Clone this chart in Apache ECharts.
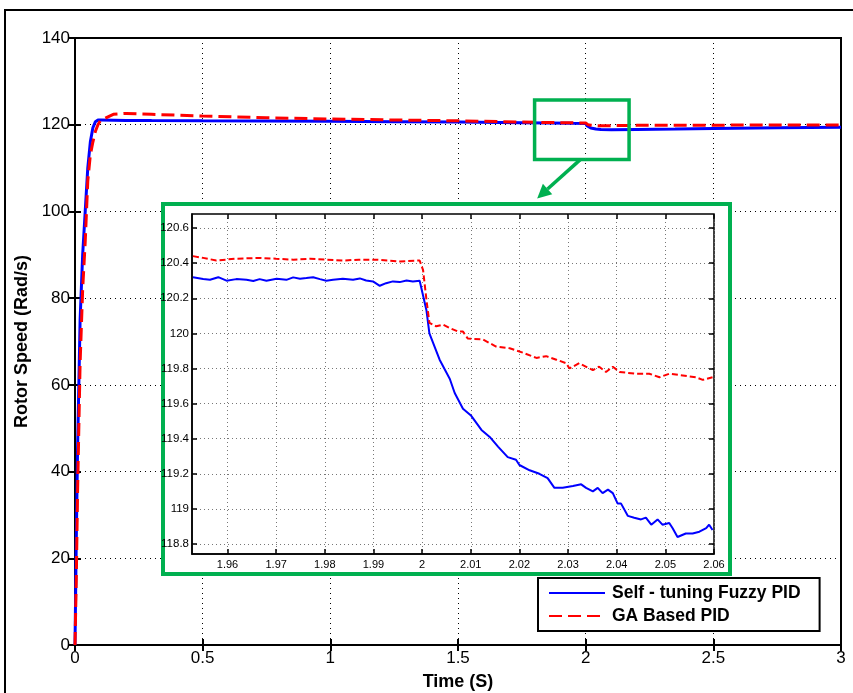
<!DOCTYPE html>
<html>
<head>
<meta charset="utf-8">
<script src="https://cdn.jsdelivr.net/npm/echarts@6/dist/echarts.min.js"></script>
<style>
  html, body { margin: 0; padding: 0; background: #fff; }
  #chart { width: 853px; height: 693px; }
</style>
</head>
<body>
<div id="chart"></div>
<script>
// full response, 0 .. 3 s
const mainTime = [0, 0.005, 0.01, 0.02, 0.03, 0.04, 0.05, 0.06, 0.07, 0.08, 0.09, 0.1, 0.15, 0.2, 0.3, 0.5, 0.75, 1.0, 1.25, 1.5, 1.75, 1.95, 2.0, 2.005, 2.01, 2.02, 2.04, 2.06, 2.1, 2.2, 2.35, 2.5, 2.75, 3.0]
const fuzzyMain = [0, 24, 45, 75, 90, 100, 110, 116, 119.3, 120.7, 121.1, 121.1, 121.05, 121.0, 120.95, 120.9, 120.85, 120.8, 120.7, 120.6, 120.45, 120.32, 120.3, 119.75, 119.5, 119.25, 119.0, 118.88, 118.82, 118.9, 119.0, 119.15, 119.3, 119.4]
const gaMain = [0, 15, 35, 65, 82, 93, 107, 113, 116, 118.5, 120, 121, 122.4, 122.6, 122.4, 122.0, 121.6, 121.3, 121.1, 120.9, 120.6, 120.43, 120.4, 120.05, 119.97, 119.89, 119.78, 119.75, 119.78, 119.85, 119.88, 119.9, 119.92, 119.95]

// zoomed detail, 1.953 .. 2.06 s
const fuzzyZoomTime = [1.9529, 1.955, 1.9564, 1.9581, 1.9598, 1.9618, 1.9639, 1.9653, 1.9666, 1.968, 1.9701, 1.9721, 1.9735, 1.9749, 1.9762, 1.9776, 1.979, 1.9803, 1.9817, 1.9837, 1.9858, 1.9872, 1.9885, 1.9899, 1.9913, 1.9926, 1.994, 1.9954, 1.9968, 1.9981, 1.9995,
  2.0009, 2.0015, 2.0036, 2.0057, 2.0067, 2.0084, 2.0101, 2.0122, 2.0139, 2.0156, 2.0176, 2.0193, 2.02, 2.0221, 2.0241, 2.0258, 2.0272, 2.0289, 2.031, 2.0327, 2.0337, 2.0351, 2.0361, 2.0371, 2.0382, 2.0392, 2.0402, 2.0409, 2.0423, 2.0436, 2.045, 2.046, 2.0471, 2.0484, 2.0494, 2.0508, 2.0515, 2.0525, 2.0542, 2.0556, 2.057, 2.0584, 2.059, 2.0597]
const fuzzyZoom = [120.32, 120.31, 120.305, 120.32, 120.30, 120.309, 120.305, 120.298, 120.309, 120.30, 120.311, 120.305, 120.319, 120.311, 120.315, 120.32, 120.309, 120.30, 120.305, 120.311, 120.305, 120.313, 120.301, 120.296, 120.271, 120.286, 120.296, 120.292, 120.301, 120.296, 120.30,
  120.13, 120.0, 119.85, 119.74, 119.66, 119.57, 119.53, 119.45, 119.41, 119.355, 119.295, 119.28, 119.25, 119.22, 119.2, 119.175, 119.12, 119.12, 119.13, 119.14, 119.12, 119.10, 119.12, 119.09, 119.11, 119.09, 119.03, 119.03, 118.96, 118.95, 118.94, 118.95, 118.91, 118.94, 118.91, 118.92, 118.89, 118.84, 118.86, 118.86, 118.87, 118.89, 118.91, 118.88]
const gaZoomTime = [1.9529, 1.955, 1.9577, 1.9615, 1.9666, 1.97, 1.9735, 1.977, 1.9803, 1.9837, 1.987, 1.9906, 1.993, 1.9954, 1.9995, 2.0002, 2.0009, 2.0015, 2.0029, 2.0043, 2.0057, 2.0074, 2.0084, 2.0094, 2.0125, 2.0152, 2.018, 2.0207, 2.0235, 2.0255, 2.0276, 2.0296, 2.0303, 2.0323, 2.0351, 2.0364, 2.0378, 2.0392, 2.0406, 2.044, 2.0467, 2.0488, 2.0508, 2.0536, 2.0563, 2.0577, 2.0597]
const gaZoom = [120.44, 120.43, 120.415, 120.425, 120.43, 120.425, 120.42, 120.425, 120.42, 120.415, 120.42, 120.42, 120.415, 120.41, 120.415, 120.36, 120.19, 120.06, 120.04, 120.05, 120.03, 120.01, 120.01, 119.97, 119.965, 119.925, 119.915, 119.89, 119.86, 119.87, 119.85, 119.83, 119.80, 119.83, 119.79, 119.81, 119.78, 119.81, 119.78, 119.77, 119.77, 119.75, 119.77, 119.76, 119.75, 119.735, 119.75]

const zoomXTicks = [1.96, 1.97, 1.98, 1.99, 2, 2.01, 2.02, 2.03, 2.04, 2.05, 2.06]
const zoomYTicks = [118.8, 119, 119.2, 119.4, 119.6, 119.8, 120, 120.2, 120.4, 120.6]

const seriesNames = ['Self - tuning Fuzzy PID', 'GA Based PID']

const FONT = '"Liberation Sans", Arial, sans-serif'

function zip(xs, ys) {
  return xs.map((x, i) => [x, ys[i]])
}

let chart = echarts.init(document.getElementById('chart'))

// extra axis used only for the ticks on the top / right side of a box
function boxAxis(gridIndex, position, min, max, extra) {
  return Object.assign({
    type: 'value',
    gridIndex: gridIndex,
    position: position,
    min: min,
    max: max,
    axisLine: { show: false },
    axisTick: { inside: true, length: 5, lineStyle: { color: '#000', width: 1.5 } },
    axisLabel: { show: false },
    splitLine: { show: false },
  }, extra)
}

let option = {
  animation: false,
  backgroundColor: '#fff',
  grid: [
    { left: 75, top: 38, right: 12, bottom: 48, outerBoundsMode: 'none', containLabel: false, show: true, borderColor: '#000', borderWidth: 2, backgroundColor: 'transparent' },
    { left: 192, top: 214, width: 522, height: 340, outerBoundsMode: 'none', containLabel: false, show: true, borderColor: '#000', borderWidth: 1.5, backgroundColor: '#fff', z: 12 },
  ],
  legend: {
    data: seriesNames,
    orient: 'vertical',
    left: 538,
    top: 578,
    itemWidth: 56,
    itemHeight: 14,
    itemGap: 5,
    padding: [6, 19, 6, 10],
    backgroundColor: '#fff',
    borderColor: '#000',
    borderWidth: 2,
    borderRadius: 0,
    itemStyle: { color: 'rgba(0,0,0,0)', borderColor: 'rgba(0,0,0,0)', borderWidth: 0 },
    textStyle: { fontFamily: 'Arial, "Liberation Sans", sans-serif', fontWeight: 'bold', fontSize: 17.5, color: '#000', padding: [0, 0, 0, 2] },
    z: 20,
  },
  xAxis: [
    {
      type: 'value',
      gridIndex: 0,
      min: 0,
      max: 3,
      interval: 0.5,
      name: 'Time (S)',
      nameLocation: 'middle',
      nameGap: 28,
      nameTextStyle: { fontFamily: 'Arial, "Liberation Sans", sans-serif', fontWeight: 'bold', fontSize: 18, color: '#000' },
      axisLine: { show: true, lineStyle: { color: '#000', width: 2 } },
      axisTick: { inside: true, length: 6, lineStyle: { color: '#000', width: 2 } },
      axisLabel: { color: '#000', fontSize: 17, fontFamily: FONT, margin: 5 },
      splitLine: { show: true, lineStyle: { type: [1, 4], color: '#000', width: 1 } },
    },
    boxAxis(0, 'top', 0, 3, { interval: 0.5, axisTick: { inside: true, length: 6, lineStyle: { color: '#000', width: 2 } } }),
    {
      type: 'value',
      gridIndex: 1,
      min: 1.9527,
      max: 2.06,
      z: 14,
      axisLine: { show: true, lineStyle: { color: '#000', width: 1.5 } },
      axisTick: { inside: true, length: 5, customValues: zoomXTicks, lineStyle: { color: '#000', width: 1.5 } },
      axisLabel: { customValues: zoomXTicks, color: '#000', fontSize: 11, fontFamily: FONT, margin: 5 },
      splitLine: { show: true, lineStyle: { type: [1, 3], color: '#777', width: 1 } },
    },
    boxAxis(1, 'top', 1.9527, 2.06, { z: 14, axisTick: { inside: true, length: 5, customValues: zoomXTicks, lineStyle: { color: '#000', width: 1.5 } } }),
  ],
  yAxis: [
    {
      type: 'value',
      gridIndex: 0,
      min: 0,
      max: 140,
      interval: 20,
      name: 'Rotor Speed (Rad/s)',
      nameLocation: 'middle',
      nameGap: 41,
      nameRotate: 90,
      nameTextStyle: { fontFamily: 'Arial, "Liberation Sans", sans-serif', fontWeight: 'bold', fontSize: 18, color: '#000' },
      axisLine: { show: true, lineStyle: { color: '#000', width: 2 } },
      axisTick: { inside: true, length: 6, lineStyle: { color: '#000', width: 2 } },
      axisLabel: { color: '#000', fontSize: 17, fontFamily: FONT, margin: 5 },
      splitLine: { show: true, lineStyle: { type: [1, 4], color: '#000', width: 1 } },
    },
    boxAxis(0, 'right', 0, 140, { interval: 20, axisTick: { inside: true, length: 6, lineStyle: { color: '#000', width: 2 } } }),
    {
      type: 'value',
      gridIndex: 1,
      min: 118.743,
      max: 120.68,
      z: 14,
      axisLine: { show: true, lineStyle: { color: '#000', width: 1.5 } },
      axisTick: { inside: true, length: 5, customValues: zoomYTicks, lineStyle: { color: '#000', width: 1.5 } },
      axisLabel: { customValues: zoomYTicks, color: '#000', fontSize: 11.5, fontFamily: FONT, margin: 3 },
      splitLine: { show: true, lineStyle: { type: [1, 3], color: '#777', width: 1 } },
    },
    boxAxis(1, 'right', 118.743, 120.68, { z: 14, axisTick: { inside: true, length: 5, customValues: zoomYTicks, lineStyle: { color: '#000', width: 1.5 } } }),
  ],
  series: [
    {
      name: seriesNames[0],
      type: 'line',
      xAxisIndex: 0,
      yAxisIndex: 0,
      data: zip(mainTime, fuzzyMain),
      showSymbol: false,
      symbol: 'none',
      color: '#0000ff',
      lineStyle: { color: '#0000ff', width: 3 },
      z: 3,
    },
    {
      name: seriesNames[1],
      type: 'line',
      xAxisIndex: 0,
      yAxisIndex: 0,
      data: zip(mainTime, gaMain),
      showSymbol: false,
      symbol: 'none',
      color: '#ff0000',
      lineStyle: { color: '#ff0000', width: 3, type: [13, 6] },
      z: 4,
    },
    {
      name: seriesNames[0],
      type: 'line',
      xAxisIndex: 2,
      yAxisIndex: 2,
      data: zip(fuzzyZoomTime, fuzzyZoom),
      showSymbol: false,
      symbol: 'none',
      color: '#0000ff',
      lineStyle: { color: '#0000ff', width: 2 },
      z: 16,
    },
    {
      name: seriesNames[1],
      type: 'line',
      xAxisIndex: 2,
      yAxisIndex: 2,
      data: zip(gaZoomTime, gaZoom),
      showSymbol: false,
      symbol: 'none',
      color: '#ff0000',
      lineStyle: { color: '#ff0000', width: 2, type: [6, 3] },
      z: 17,
    },
  ],
  graphic: [
    {
      type: 'rect',
      shape: { x: 5, y: 10, width: 900, height: 700 },
      style: { fill: null, stroke: '#000', lineWidth: 2 },
      z: 1,
    },
    {
      type: 'text',
      left: -2,
      top: -19,
      style: { text: 'y, an          ideal steady state error              just GA.', font: 'italic 19px "Liberation Serif", serif', fill: '#000' },
      z: 1,
    },
    {
      type: 'rect',
      shape: { x: 163, y: 204, width: 567, height: 370 },
      style: { fill: '#fff', stroke: '#00b050', lineWidth: 4 },
      z: 10,
    },
  ],
}

chart.setOption(option)

// small zoom rectangle on the main plot and the arrow to the inset
let p1 = chart.convertToPixel({ gridIndex: 0 }, [1.8, 125.7])
let p2 = chart.convertToPixel({ gridIndex: 0 }, [2.17, 112])
let a0 = chart.convertToPixel({ gridIndex: 0 }, [1.98, 112])
let a1 = chart.convertToPixel({ gridIndex: 0 }, [1.81, 103])
let dx = a1[0] - a0[0], dy = a1[1] - a0[1]
let len = Math.sqrt(dx * dx + dy * dy)
let ux = dx / len, uy = dy / len
let headLen = 14, headW = 7
let base = [a1[0] - ux * headLen, a1[1] - uy * headLen]

option.graphic.push(
  {
    type: 'rect',
    shape: { x: p1[0], y: p1[1], width: p2[0] - p1[0], height: p2[1] - p1[1] },
    style: { fill: null, stroke: '#00b050', lineWidth: 3.5 },
    z: 11,
  },
  {
    type: 'line',
    shape: { x1: a0[0], y1: a0[1], x2: base[0], y2: base[1] },
    style: { stroke: '#00b050', lineWidth: 3.5 },
    z: 11,
  },
  {
    type: 'polygon',
    shape: { points: [a1, [base[0] - uy * headW, base[1] + ux * headW], [base[0] + uy * headW, base[1] - ux * headW]] },
    style: { fill: '#00b050' },
    z: 11,
  }
)
chart.setOption(option, true)

window.onresize = function () {
  chart.resize()
}
</script>
</body>
</html>
